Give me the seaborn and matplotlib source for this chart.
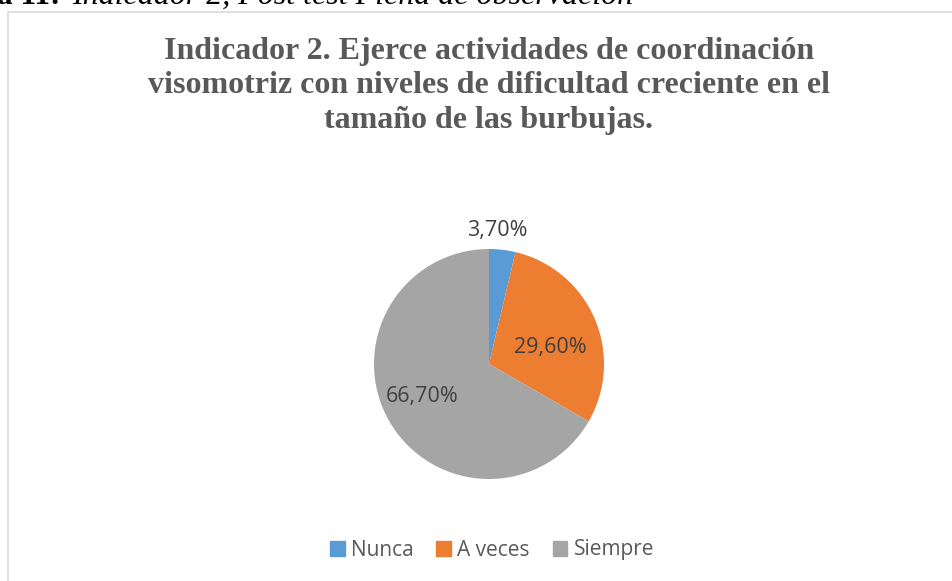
import matplotlib
matplotlib.use("Agg")
import matplotlib.pyplot as plt
import seaborn as sns
from matplotlib.patches import Rectangle

categories = ["Nunca", "A veces", "Siempre"]
values = [3.7, 29.6, 66.7]
labels = ["3,70%", "29,60%", "66,70%"]
colors = ["#5B9BD5", "#ED7D31", "#A5A5A5"]
title = ("Indicador 2. Ejerce actividades de coordinación\n"
         "visomotriz con niveles de dificultad creciente en el\n"
         "tamaño de las burbujas.")

sns.set_theme(style="white")
plt.rcParams["font.family"] = ["Open Sans", "DejaVu Sans"]

fig = plt.figure(figsize=(9.53, 5.81), dpi=100)
fig.patch.set_facecolor("white")

# chart frame
fig.patches.append(Rectangle((8 / 953, -0.01), 1.0, (581 - 12.5) / 581 + 0.01,
                             transform=fig.transFigure, fill=False,
                             edgecolor="#D9D9D9", linewidth=1.2))

# caption above the chart, cut off at the top like the source
fig.text(60 / 953, 1 - 4 / 581, "a 11:", fontsize=22.5, fontweight="bold",
         family="Liberation Serif", va="baseline", ha="right", color="black")
fig.text(72 / 953, 1 - 4 / 581, "Indicador 2, Post test Ficha de observación",
         fontsize=23, fontstyle="italic", family="Liberation Serif",
         va="baseline", ha="left", color="black")

fig.text(489 / 953, 1 - 37 / 581, title, ha="center", va="top",
         fontsize=23, fontweight="bold", family="Liberation Serif",
         color="#595959", linespacing=1.24)

ax = fig.add_axes([374 / 953, (581 - 479) / 581, 230 / 953, 230 / 581])
wedges, _ = ax.pie(values, colors=colors, startangle=90, counterclock=False,
                   radius=1, wedgeprops=dict(linewidth=0))
ax.set_xlim(-1, 1)
ax.set_ylim(-1, 1)
ax.set_aspect("equal")
ax.axis("off")

label_pos = [(0.07, 1.16), (0.53, 0.14), (-0.58, -0.28)]
for (x, y), lab in zip(label_pos, labels):
    ax.text(x, y, lab, ha="center", va="center", fontsize=15.5, color="#404040")

handles = [Rectangle((0, 0), 1, 1, color=c) for c in colors]
fig.legend(handles, categories, loc="center", bbox_to_anchor=(492 / 953, 1 - 550 / 581),
           ncol=3, frameon=False, fontsize=15, handlelength=0.7, handleheight=0.7,
           handletextpad=0.3, columnspacing=1.1, labelcolor="#595959")

fig.savefig("out.png", dpi=100)
